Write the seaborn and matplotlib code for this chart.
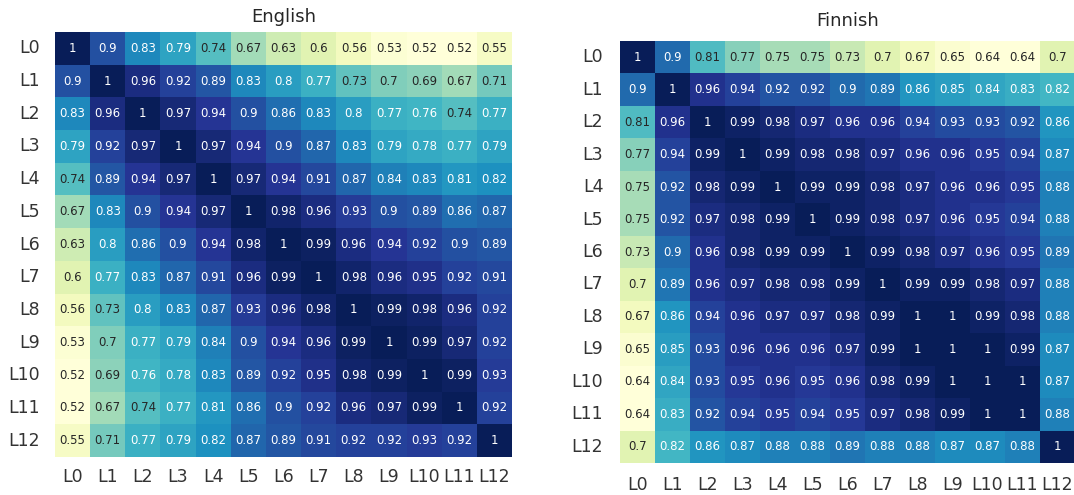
import numpy as np
import pandas as pd
import matplotlib
matplotlib.use("Agg")
import matplotlib.pyplot as plt
import seaborn as sns

layers = [f"L{i}" for i in range(13)]

english = [
    [1, .9, .83, .79, .74, .67, .63, .6, .56, .53, .52, .52, .55],
    [.9, 1, .96, .92, .89, .83, .8, .77, .73, .7, .69, .67, .71],
    [.83, .96, 1, .97, .94, .9, .86, .83, .8, .77, .76, .74, .77],
    [.79, .92, .97, 1, .97, .94, .9, .87, .83, .79, .78, .77, .79],
    [.74, .89, .94, .97, 1, .97, .94, .91, .87, .84, .83, .81, .82],
    [.67, .83, .9, .94, .97, 1, .98, .96, .93, .9, .89, .86, .87],
    [.63, .8, .86, .9, .94, .98, 1, .99, .96, .94, .92, .9, .89],
    [.6, .77, .83, .87, .91, .96, .99, 1, .98, .96, .95, .92, .91],
    [.56, .73, .8, .83, .87, .93, .96, .98, 1, .99, .98, .96, .92],
    [.53, .7, .77, .79, .84, .9, .94, .96, .99, 1, .99, .97, .92],
    [.52, .69, .76, .78, .83, .89, .92, .95, .98, .99, 1, .99, .93],
    [.52, .67, .74, .77, .81, .86, .9, .92, .96, .97, .99, 1, .92],
    [.55, .71, .77, .79, .82, .87, .89, .91, .92, .92, .93, .92, 1],
]

finnish = [
    [1, .9, .81, .77, .75, .75, .73, .7, .67, .65, .64, .64, .7],
    [.9, 1, .96, .94, .92, .92, .9, .89, .86, .85, .84, .83, .82],
    [.81, .96, 1, .99, .98, .97, .96, .96, .94, .93, .93, .92, .86],
    [.77, .94, .99, 1, .99, .98, .98, .97, .96, .96, .95, .94, .87],
    [.75, .92, .98, .99, 1, .99, .99, .98, .97, .96, .96, .95, .88],
    [.75, .92, .97, .98, .99, 1, .99, .98, .97, .96, .95, .94, .88],
    [.73, .9, .96, .98, .99, .99, 1, .99, .98, .97, .96, .95, .89],
    [.7, .89, .96, .97, .98, .98, .99, 1, .99, .99, .98, .97, .88],
    [.67, .86, .94, .96, .97, .97, .98, .99, 1, 1, .99, .98, .88],
    [.65, .85, .93, .96, .96, .96, .97, .99, 1, 1, 1, .99, .87],
    [.64, .84, .93, .95, .96, .95, .96, .98, .99, 1, 1, 1, .87],
    [.64, .83, .92, .94, .95, .94, .95, .97, .98, .99, 1, 1, .88],
    [.7, .82, .86, .87, .88, .88, .89, .88, .88, .87, .87, .88, 1],
]

sns.set_theme(style="white")

fig = plt.figure(figsize=(10.74, 4.95), dpi=100)
W, H = 1074, 495

# axes boxes in pixels: left, top, right, bottom, title pad, y pad, x pad
boxes = {
    "English": (55, 32, 512, 457, 7, 11, 8),
    "Finnish": (620, 41, 1075, 463, 11, 12, 9),
}
data = {"English": english, "Finnish": finnish}

for name, (l, t, r, b, tpad, ypad, xpad) in boxes.items():
    ax = fig.add_axes([l / W, 1 - b / H, (r - l) / W, (b - t) / H])
    df = pd.DataFrame(data[name], index=layers, columns=layers)
    sns.heatmap(df, ax=ax, cmap="YlGnBu", annot=True, fmt=".2g",
                annot_kws={"size": 8.5}, cbar=False)
    ax.set_title(name, fontsize=13, color="#262626", pad=tpad)
    ax.tick_params(axis="both", length=0, labelsize=12.5, colors="#333333")
    ax.tick_params(axis="y", pad=ypad)
    ax.tick_params(axis="x", pad=xpad)
    ax.set_yticklabels(layers, rotation=0)
    ax.set_xticklabels(layers, rotation=0)

fig.savefig("out.png", dpi=100)
